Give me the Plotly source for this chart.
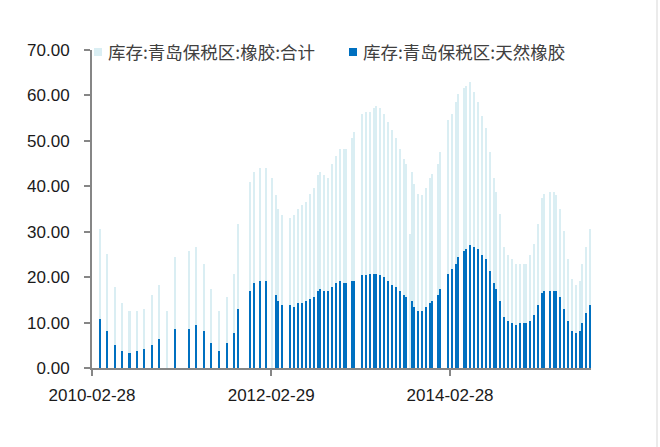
import plotly.graph_objects as go

# ---- data ----
dates = [
    "2010-03-31", "2010-04-30", "2010-05-31", "2010-06-30", "2010-07-31", "2010-08-31",
    "2010-09-30", "2010-10-31", "2010-11-30", "2010-12-31", "2011-01-31", "2011-03-31",
    "2011-04-30", "2011-05-31", "2011-06-30", "2011-07-31", "2011-08-31", "2011-09-30",
    "2011-10-15", "2011-12-05", "2011-12-21", "2012-01-15", "2012-02-08", "2012-03-04",
    "2012-03-20", "2012-03-28", "2012-04-13", "2012-05-16", "2012-06-01", "2012-06-17",
    "2012-07-04", "2012-07-20", "2012-08-05", "2012-08-22", "2012-09-07", "2012-09-15",
    "2012-10-02", "2012-10-18", "2012-11-03", "2012-11-19", "2012-12-06", "2012-12-22",
    "2012-12-31", "2013-01-24", "2013-02-01", "2013-03-05", "2013-03-22", "2013-04-07",
    "2013-04-23", "2013-05-02", "2013-05-18", "2013-06-03", "2013-06-20", "2013-07-06",
    "2013-07-22", "2013-08-08", "2013-08-24", "2013-09-01", "2013-09-17", "2013-09-26",
    "2013-10-04", "2013-10-20", "2013-11-05", "2013-11-22", "2013-12-08", "2013-12-16",
    "2014-01-10", "2014-01-18", "2014-02-19", "2014-03-08", "2014-03-24", "2014-04-01",
    "2014-04-26", "2014-05-04", "2014-05-20", "2014-06-05", "2014-06-22", "2014-07-08",
    "2014-07-24", "2014-08-10", "2014-08-26", "2014-09-03", "2014-09-20", "2014-10-06",
    "2014-10-22", "2014-11-08", "2014-11-24", "2014-12-10", "2014-12-27", "2015-01-04",
    "2015-01-20", "2015-02-05", "2015-02-22", "2015-03-10", "2015-03-18", "2015-04-12",
    "2015-04-28", "2015-05-06", "2015-05-23", "2015-06-08", "2015-06-24", "2015-07-10",
    "2015-07-27", "2015-08-12", "2015-08-20", "2015-09-06", "2015-09-22",
]

total_rubber = [
    30.5, 25.2, 17.8, 14.3, 12.5, 12.5,
    12.9, 16.0, 18.2, 12.5, 24.4, 25.7,
    26.6, 23.0, 17.3, 12.5, 15.6, 20.8,
    31.8, 41.0, 43.2, 44.1, 44.1, 41.9,
    38.0, 34.9, 33.6, 33.1, 33.6, 34.9,
    35.8, 36.6, 38.4, 39.7, 42.4, 43.2,
    42.4, 41.9, 45.0, 46.7, 48.1, 48.1,
    48.1, 50.7, 52.0, 56.0, 56.4, 56.4,
    57.3, 57.7, 57.3, 56.0, 54.2, 52.4,
    50.7, 48.1, 45.9, 45.0, 29.6, 43.2,
    40.6, 38.4, 38.0, 39.7, 41.9, 42.8,
    45.0, 47.6, 54.6, 56.0, 58.6, 60.3,
    61.7, 62.1, 63.0, 60.8, 58.6, 55.5,
    52.9, 47.6, 41.9, 38.8, 34.0, 26.6,
    24.8, 23.9, 23.0, 23.0, 23.0, 23.0,
    24.8, 27.4, 31.8, 37.5, 38.4, 38.8,
    38.8, 38.0, 34.9, 30.1, 23.9, 19.5,
    18.2, 19.1, 23.0, 26.6, 30.5,
]

natural_rubber = [
    10.8, 8.1, 5.0, 3.7, 3.3, 3.7,
    4.2, 5.0, 6.4, None, 8.6, 8.6,
    9.4, 8.1, 5.5, 3.7, 5.5, 7.7,
    12.9, 16.9, 18.7, 19.1, 19.1, None,
    16.0, 14.7, 13.8, 13.8, 13.4, 14.3,
    14.3, 14.7, 15.1, 15.6, 16.9, 17.3,
    16.9, 16.9, 17.8, 18.7, 19.1, 18.7,
    18.7, 19.1, 19.1, 20.4, 20.4, 20.8,
    20.8, 20.8, 20.4, 20.0, 19.1, 18.2,
    17.8, 16.9, 16.0, 15.6, None, 14.7,
    13.4, 12.5, 12.5, 13.4, 14.3, 14.7,
    16.0, 17.3, 20.8, 21.7, 23.0, 24.4,
    25.7, 26.1, 27.0, 26.6, 26.1, 24.8,
    23.9, 21.3, 18.7, 17.3, 14.7, 11.2,
    10.3, 9.9, 9.4, 9.9, 9.9, 9.9,
    10.3, 11.6, 13.8, 16.5, 16.9, 16.9,
    16.9, 16.9, 15.6, 12.9, 10.3, 8.1,
    7.7, 8.1, 9.9, 12.1, 13.8,
]

series_names = ["库存:青岛保税区:橡胶:合计", "库存:青岛保税区:天然橡胶"]
tick_dates = ["2010-02-28", "2012-02-29", "2014-02-28"]
tick_labels = ["2010-02-28", "2012-02-29", "2014-02-28"]
y_ticks = [0, 10, 20, 30, 40, 50, 60, 70]

# ---- style ----
LIGHT = "#DAEEF3"
DARK = "#0070C0"
AXIS = "#868686"
DAY_MS = 86400000
BAR_W = 8.2 * DAY_MS
TICK_FONT = dict(family="Liberation Sans, Arial, sans-serif", size=17, color="#1a1a1a")
LEG_FONT = dict(family="Noto Sans CJK SC, sans-serif", size=17.5, color="#404040")

W, H = 660, 447
ML, MR, MT, MB = 92, 69, 50, 79
PW, PH = W - ML - MR, H - MT - MB


def px_x(p):
    return (p - ML) / PW


def px_y(p):
    return (H - MB - p) / PH


fig = go.Figure()
fig.add_trace(go.Bar(x=dates, y=total_rubber, name=series_names[0],
                     marker=dict(color=LIGHT, line=dict(width=0)), width=BAR_W,
                     showlegend=False))
fig.add_trace(go.Bar(x=dates, y=natural_rubber, name=series_names[1],
                     marker=dict(color=DARK, line=dict(width=0)), width=BAR_W,
                     showlegend=False))

# legend drawn as real text + small swatches
shapes = []
annotations = []
legend_items = [(94, LIGHT, series_names[0]), (349, DARK, series_names[1])]
for sx, col, name in legend_items:
    shapes.append(dict(type="rect", xref="paper", yref="paper",
                       x0=px_x(sx), x1=px_x(sx + 8), y0=px_y(56), y1=px_y(48),
                       fillcolor=col, line=dict(width=0), layer="above"))
    annotations.append(dict(text=name, xref="paper", yref="paper",
                            x=px_x(sx + 13), y=px_y(51), xanchor="left", yanchor="middle",
                            showarrow=False, font=LEG_FONT, borderpad=0))

# faint right border of the chart frame
shapes.append(dict(type="line", xref="paper", yref="paper",
                   x0=px_x(657), x1=px_x(657), y0=px_y(H), y1=px_y(0),
                   line=dict(color="#ebebeb", width=2)))

fig.update_layout(
    width=W, height=H,
    margin=dict(l=ML, r=MR, t=MT, b=MB, pad=0),
    paper_bgcolor="white", plot_bgcolor="white",
    barmode="overlay", bargap=0,
    shapes=shapes, annotations=annotations,
    showlegend=False,
)

fig.update_xaxes(
    type="date", range=["2010-02-28", "2015-09-26"],
    tickmode="array", tickvals=tick_dates, ticktext=tick_labels,
    showgrid=False, zeroline=False,
    showline=True, linecolor=AXIS, linewidth=2,
    ticks="outside", ticklen=6, tickwidth=2, tickcolor=AXIS,
    tickfont=TICK_FONT, ticklabelstandoff=5,
)
fig.update_yaxes(
    range=[0, 70], tickmode="array", tickvals=y_ticks,
    tickformat=".2f",
    showgrid=False, zeroline=False,
    showline=True, linecolor=AXIS, linewidth=2,
    ticks="outside", ticklen=6, tickwidth=2, tickcolor=AXIS,
    tickfont=TICK_FONT, ticklabelstandoff=11,
)

fig.write_html("out.html")
